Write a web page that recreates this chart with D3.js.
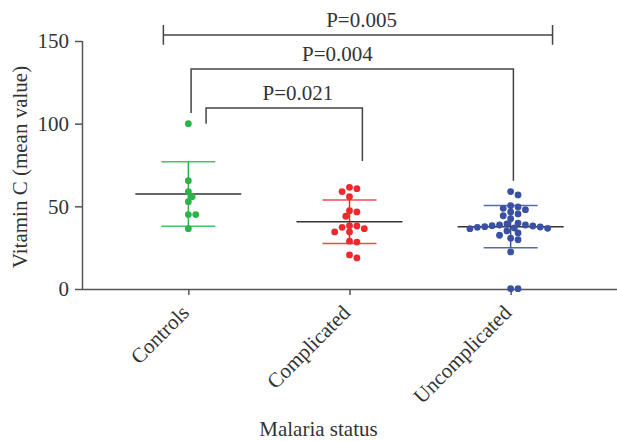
<!DOCTYPE html>
<html>
<head>
<meta charset="utf-8">
<script src="https://cdn.jsdelivr.net/npm/d3@7"></script>
<style>
  html, body { margin: 0; padding: 0; background: #fff; }
  svg { display: block; }
  text { font-family: "Liberation Serif", "Times New Roman", serif !important; fill: #333; }
</style>
</head>
<body>
<svg id="chart" width="617" height="441"></svg>
<script>
// ---------- data ----------
const categories = ["Controls", "Complicated", "Uncomplicated"];
const controlsValues = [100, 65.5, 58.9, 55.8, 52.8, 45, 45, 36.5];
const complicatedValues = [61.5, 60.7, 58.9, 55.8, 47.4, 46.6, 44, 38.3, 38.1, 37.3, 36.5, 34.5, 34.5, 28.9, 28.4, 20.6, 18.8];
const uncomplicatedValues = [58.9, 56.9, 50.4, 49.6, 48.8, 48, 46.6, 45.4, 44.3, 42.5, 39.9, 39.3, 38.7, 38.7, 38.3, 38.1, 37.7, 37.5, 37.3, 36.9, 36.7, 36.5, 35.1, 33.9, 32.5, 30.7, 29.8, 22.4, 0.2, 0.2];
const groupColors = ["#2db34a", "#ec2a2c", "#3a51a3"];
const yTicks = [0, 50, 100, 150];
const yTitle = "Vitamin C (mean value)";
const xTitle = "Malaria status";

// significance annotations (x in category-index units, y in data units)
const pLabels = ["P=0.005", "P=0.004", "P=0.021"];
const pFrom = [-0.155, 0.017, 0.11];
const pTo = [2.26, 2.017, 1.08];
const pLevel = [153.7, 133, 109.5];
const pLegFrom = [null, 106.5, 100];
const pLegTo = [null, 65.5, 77.4];
const pLabelAt = [1.075, 0.925, 0.68];

const groups = [controlsValues, complicatedValues, uncomplicatedValues];

// ---------- layout ----------
const svg = d3.select("#chart");

const x = d3.scalePoint().domain(categories).range([82, 617]).padding(0.66);
const y = d3.scaleLinear().domain([0, 150]).range([289, 41]);
const xi = d3.scaleLinear().domain([0, 2]).range([x(categories[0]), x(categories[2])]);

// axes
const yAxis = svg.append("g").attr("transform", "translate(82,0)")
  .call(d3.axisLeft(y).tickValues(yTicks).tickSize(7).tickPadding(6).tickSizeOuter(0));
const xAxis = svg.append("g").attr("transform", "translate(0,289)")
  .call(d3.axisBottom(x).tickSize(6).tickSizeOuter(0).tickFormat(""));
xAxis.select(".domain").attr("d", "M82,0.5H617");
[yAxis, xAxis].forEach(g => {
  g.attr("font-family", "Liberation Serif");
  g.selectAll("path, line").attr("stroke", "#555").attr("stroke-width", 1.5);
});
yAxis.select(".domain").attr("d", "M0.5," + y(150) + "V" + y(0));
yAxis.selectAll("text").attr("font-size", 21).attr("fill", "#333");

// category labels
svg.append("g").selectAll("text").data(categories).join("text")
  .attr("transform", d => `translate(${x(d) + 2},${314}) rotate(-45)`)
  .attr("text-anchor", "end")
  .attr("font-size", 21)
  .text(d => d);

// titles
svg.append("text")
  .attr("transform", `translate(27,${(y(0) + y(150)) / 2 + 2}) rotate(-90)`)
  .attr("text-anchor", "middle").attr("font-size", 21).text(yTitle);
svg.append("text").attr("x", 318.5).attr("y", 436)
  .attr("text-anchor", "middle").attr("font-size", 21).text(xTitle);

// beeswarm positions
const R = 3.4, STEP = 3.7, MIND = 6.0;
function swarm(vals, cx) {
  const pts = [];
  const order = vals.map((v, i) => i).sort((a, b) => vals[b] - vals[a]);
  order.forEach(i => {
    const py = y(vals[i]);
    for (let k = 0; k < 60; k++) {
      const off = (k === 0) ? 0 : (k % 2 ? 1 : -1) * Math.ceil(k / 2) * STEP;
      const px = cx + off;
      if (pts.every(p => Math.hypot(p.x - px, p.y - py) >= MIND)) {
        pts.push({ x: px, y: py, v: vals[i] });
        break;
      }
    }
  });
  return pts;
}

groups.forEach((vals, gi) => {
  const cx = x(categories[gi]);
  const col = groupColors[gi];
  const m = d3.mean(vals), sd = d3.deviation(vals);
  const g = svg.append("g");
  // SD bar
  g.append("line").attr("x1", cx).attr("x2", cx).attr("y1", y(m + sd)).attr("y2", y(m - sd))
    .attr("stroke", col).attr("stroke-width", 1.5);
  [m + sd, m - sd].forEach(v => {
    g.append("line").attr("x1", cx - 27).attr("x2", cx + 27).attr("y1", y(v)).attr("y2", y(v))
      .attr("stroke", col).attr("stroke-width", 1.5).attr("stroke-opacity", 0.85);
  });
  // mean line
  g.append("line").attr("x1", cx - 53).attr("x2", cx + 53).attr("y1", y(m)).attr("y2", y(m))
    .attr("stroke", "#333").attr("stroke-width", 1.5);
  // dots
  g.selectAll("circle").data(swarm(vals, cx)).join("circle")
    .attr("cx", d => d.x).attr("cy", d => d.y).attr("r", R).attr("fill", col);
});

// significance brackets
const br = svg.append("g").attr("stroke", "#444").attr("stroke-width", 1.5).attr("fill", "none");
pLabels.forEach((lab, i) => {
  const x1 = xi(pFrom[i]), x2 = xi(pTo[i]), yl = y(pLevel[i]);
  let d;
  if (pLegFrom[i] === null) {
    d = `M${x1},${yl}H${x2}M${x1},${y(pLevel[i] + 6)}V${y(pLevel[i] - 6)}M${x2},${y(pLevel[i] + 6)}V${y(pLevel[i] - 6)}`;
  } else {
    d = `M${x1},${y(pLegFrom[i])}V${yl}H${x2}V${y(pLegTo[i])}`;
  }
  br.append("path").attr("d", d);
  svg.append("text").attr("x", xi(pLabelAt[i])).attr("y", yl - 8)
    .attr("text-anchor", "middle").attr("font-size", 21).text(lab);
});
</script>
</body>
</html>
